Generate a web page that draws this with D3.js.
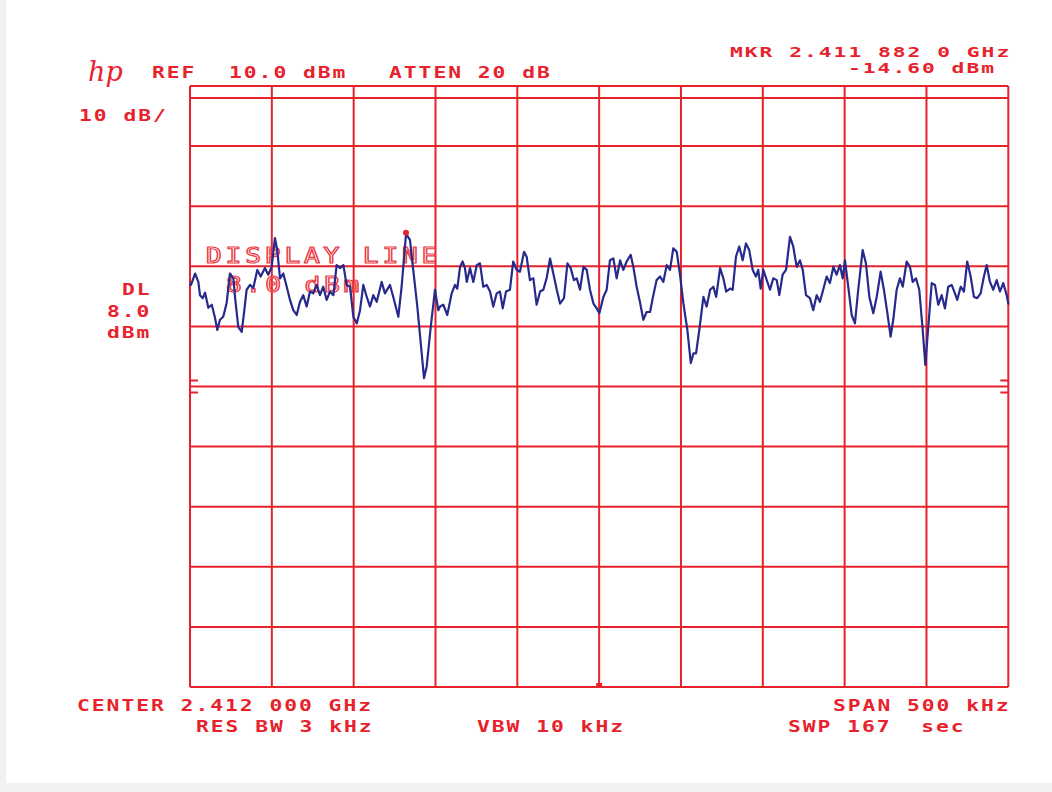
<!DOCTYPE html>
<html>
<head>
<meta charset="utf-8">
<script src="https://cdn.jsdelivr.net/npm/d3@7"></script>
<style>
  html, body { margin: 0; padding: 0; background: #ffffff; }
  svg { display: block; }
  svg text { white-space: pre; }
</style>
</head>
<body>
<svg id="chart" width="1052" height="792"></svg>
<script>
// Spectrum analyser plot: 2.412 GHz centre, 500 kHz span, 10 dB/div from +10 dBm reference.
const centerGHz = 2.412;
const spanKHz = 500;
const refDBm = 10;
const dbPerDiv = 10;
const displayLineDBm = 8.0;
const markerOffsetKHz = -118;      // 2.411 882 0 GHz
const markerLevelDBm = -14.60;

// Trace: frequency offset from centre (kHz) and level (dBm)
const freqOffsetKHz = [
  -250, -249.4, -246.9, -244.9, -243.9, -242.2, -240.8, -238.8, -236.7, -234.7,
  -233.3, -231.7, -229.7, -227.6, -225.6, -223.5, -222.5, -220.5, -218.4, -216.8,
  -215.4, -213.3, -211.3, -208.9, -206.8, -204.2, -202.2, -200.1, -198.1, -196.7,
  -195.0, -193.0, -190.9, -188.9, -186.9, -184.8, -182.8, -180.8, -178.7, -176.7,
  -174.7, -172.6, -170.6, -168.6, -166.5, -164.5, -162.4, -160.4, -158.3, -156.3,
  -154.3, -152.2, -150.2, -148.1, -146.1, -144.1, -142.0, -140.0, -138.0, -135.9,
  -132.9, -130.9, -127.8, -125.8, -122.7, -120.7, -118.0, -115.6, -113.6, -111.1,
  -109.0, -107.0, -105.4, -102.9, -100.3, -98.3,
  -97.2, -95.2, -92.8, -90.1, -88.1, -86.7, -85.0, -83.4, -82.0, -80.9,
  -78.9, -76.9, -74.8, -72.8, -70.8, -68.7, -66.7, -64.7, -62.6, -60.6,
  -58.9, -56.9, -54.5, -52.5, -50.4, -48.4, -45.9, -44.3, -42.3, -40.2,
  -38.2, -36.1, -34.1, -32.1, -30.0, -28.0, -25.9, -23.9, -21.5, -19.4,
  -17.4, -15.4, -13.7, -11.7, -9.6, -7.6, -5.6, -3.5, -1.5, 0.1,
  2.6, 4.6, 6.6, 8.7, 10.7, 12.8, 14.8, 16.8, 19.3, 20.9,
  22.9, 24.9, 27.0, 29.0, 31.1, 33.1, 35.1, 37.2, 39.2, 41.3,
  43.3, 45.3, 47.4, 49.4, 51.5, 53.9, 56.0, 57.6, 59.2, 61.2,
  63.7, 65.7, 67.8, 69.8, 71.5,
  73.9, 75.9, 77.6, 80.0, 81.6, 83.6, 85.6, 87.7, 89.7, 91.7,
  93.8, 95.8, 97.2, 98.7, 100.3, 102.4, 104.4, 106.4, 108.5, 110.1,
  112.1, 114.2, 116.6, 118.6, 120.7, 122.7, 124.4, 126.4, 128.8, 130.8,
  132.9, 134.9, 136.9, 139.0, 141.0, 143.1, 145.1, 147.1, 148.8, 150.2,
  152.2, 154.3, 156.3, 158.3, 161.0, 163.0, 165.1, 167.5, 169.6, 172.0,
  174.0, 176.1, 178.1, 179.7, 181.8, 183.8, 185.5, 187.9, 189.9, 191.6,
  193.6, 195.6, 197.7, 199.3, 201.1, 203.2, 205.2, 207.2, 209.3, 211.3,
  213.3, 215.4, 217.4, 218.8, 220.9, 222.9, 224.9, 227.0, 229.0, 231.0,
  233.1, 235.1, 236.8, 238.8, 240.8, 242.9, 244.9, 246.9, 249.0, 250
];
const levelDBm = [
  -23.0, -23.1, -21.2, -22.6, -24.8, -25.3, -24.4, -26.9, -26.4, -28.6,
  -30.6, -28.9, -28.4, -26.1, -21.2, -22.0, -25.1, -30.1, -30.9, -27.3,
  -23.9, -23.1, -23.6, -20.6, -21.7, -20.3, -21.4, -20.1, -15.3, -17.3,
  -22.0, -21.2, -23.4, -25.6, -27.3, -28.1, -25.9, -24.8, -26.7, -24.2,
  -24.5, -23.1, -24.8, -23.4, -25.6, -24.2, -24.8, -19.8, -20.3, -19.8,
  -23.1, -23.4, -28.4, -29.5, -27.3, -23.1, -25.1, -26.7, -24.8, -25.9,
  -22.6, -24.5, -23.1, -25.1, -28.4, -23.4, -14.6, -15.6, -20.6, -26.7,
  -32.8, -38.6, -36.7, -30.1, -23.9, -27.3,
  -26.7, -26.4, -28.1, -24.5, -23.1, -23.7, -20.1, -19.2, -20.3, -22.6,
  -20.3, -22.6, -19.8, -19.5, -23.4, -23.1, -24.2, -26.7, -24.5, -24.2,
  -27.0, -24.2, -23.9, -19.2, -20.6, -20.9, -17.6, -18.4, -22.3, -22.0,
  -26.4, -24.2, -23.9, -22.0, -18.7, -21.2, -23.9, -26.2, -25.3, -19.5,
  -20.3, -22.3, -22.0, -23.9, -20.1, -20.6, -23.9, -26.2, -27.0, -27.8,
  -25.1, -23.9, -19.0, -18.7, -22.0, -19.0, -20.6, -19.2, -18.1, -20.1,
  -23.4, -25.9, -28.9, -27.6, -27.6, -24.8, -22.3, -21.7, -22.6, -19.8,
  -20.6, -17.0, -17.6, -21.4, -26.2, -30.6, -36.1, -34.5, -34.5, -30.6,
  -25.1, -26.7, -23.9, -23.4, -25.1,
  -20.3, -22.0, -24.2, -23.7, -23.9, -18.4, -16.7, -19.0, -16.2, -17.3,
  -20.6, -21.7, -20.6, -23.7, -20.6, -22.3, -23.9, -22.0, -22.3, -24.8,
  -21.4, -20.6, -15.1, -16.7, -20.1, -19.0, -20.6, -24.8, -25.3, -27.3,
  -24.8, -25.9, -23.9, -21.7, -22.8, -20.1, -21.4, -19.8, -22.0, -19.0,
  -23.4, -28.1, -29.5, -23.9, -17.3, -19.5, -25.1, -27.8, -25.1, -20.9,
  -23.9, -27.8, -31.7, -28.9, -23.9, -22.0, -23.4, -19.2, -20.1, -22.6,
  -22.0, -23.9, -30.6, -36.4, -30.1, -22.8, -23.1, -26.4, -24.8, -27.0,
  -23.4, -23.1, -24.5, -25.6, -23.4, -24.2, -19.2, -21.7, -25.1, -25.3,
  -24.5, -21.7, -19.8, -22.6, -23.9, -22.3, -24.2, -22.8, -24.8, -26.2
];

// Graticule divisions
const xTickKHz = d3.range(-spanKHz / 2, spanKHz / 2 + 1, spanKHz / 10);
const yTickDBm = d3.range(refDBm - 10 * dbPerDiv, refDBm + 1, dbPerDiv);

// Header / footer annotations
const headerLeft = ["REF", "10.0 dBm", "ATTEN 20 dB"];
const scaleLabel = "10 dB/";
const markerFreqLabel = "MKR 2.411 882 0 GHz";
const footerTop = ["CENTER 2.412 000 GHz", "SPAN 500 kHz"];
const footerBottom = ["RES BW 3 kHz", "VBW 10 kHz", "SWP 167  sec"];
const dlLabel = ["DL", displayLineDBm.toFixed(1), "dBm"];
const dlBanner = ["DISPLAY LINE", displayLineDBm.toFixed(1) + " dBm"];

const RED = "#e8222c";
const NAVY = "#262a8c";

const svg = d3.select("#chart");

// faint scanner edges
svg.append("rect").attr("x", 0).attr("y", 0).attr("width", 6).attr("height", 792).attr("fill", "#f0f1f4");
svg.append("rect").attr("x", 0).attr("y", 783).attr("width", 1052).attr("height", 9).attr("fill", "#f2f2f2");

const x = d3.scaleLinear().domain([-spanKHz / 2, spanKHz / 2]).range([190, 1008.3]);
const y = d3.scaleLinear().domain([refDBm - 10 * dbPerDiv, refDBm]).range([687, 86]);

const grid = svg.append("g").attr("stroke", RED).attr("stroke-width", 2).attr("fill", "none");

// horizontal divisions
grid.selectAll("line.h").data(yTickDBm).join("line")
  .attr("class", "h")
  .attr("x1", x(-spanKHz / 2)).attr("x2", x(spanKHz / 2))
  .attr("y1", d => y(d)).attr("y2", d => y(d));

// vertical divisions
grid.selectAll("line.v").data(xTickKHz).join("line")
  .attr("class", "v")
  .attr("x1", d => x(d)).attr("x2", d => x(d))
  .attr("y1", y(refDBm)).attr("y2", y(refDBm - 10 * dbPerDiv));

// display line
grid.append("line")
  .attr("x1", x(-spanKHz / 2)).attr("x2", x(spanKHz / 2))
  .attr("y1", y(displayLineDBm)).attr("y2", y(displayLineDBm));

// threshold ticks at both edges around -40 dBm
[-39, -41].forEach(v => {
  grid.append("line").attr("x1", x(-250)).attr("x2", x(-250) + 8).attr("y1", y(v)).attr("y2", y(v));
  grid.append("line").attr("x1", x(250) - 8).attr("x2", x(250)).attr("y1", y(v)).attr("y2", y(v));
});

// centre-frequency mark on the bottom edge
svg.append("rect")
  .attr("x", x(0) - 3).attr("y", y(-90) - 4).attr("width", 6).attr("height", 4)
  .attr("fill", RED);

// Plotter-style monospaced text
function plot(str, x0, base, o = {}) {
  const pitch = o.pitch || 14.8, size = o.size || 15, sx = o.sx || 1.42;
  const t = svg.append("text")
    .attr("transform", `translate(${x0},${base}) scale(${sx},1)`)
    .attr("font-family", "DejaVu Sans Mono")
    .attr("font-weight", o.weight || "bold")
    .attr("font-size", size)
    .attr("x", Array.from(str, (_, i) => (i * pitch / sx).toFixed(2)).join(" "))
    .attr("y", 0)
    .text(str);
  if (o.hollow) {
    t.attr("fill", "none").attr("stroke", o.color || "#ea3a44").attr("stroke-width", 1.2);
  } else {
    t.attr("fill", o.color || RED);
  }
  return t;
}

// banner text behind the trace
plot(dlBanner[0], 206, 263, { pitch: 19.6, size: 21, sx: 1.25, weight: "normal", hollow: true });
plot(dlBanner[1], 226, 292, { pitch: 19.6, size: 21, sx: 1.25, weight: "normal", hollow: true });

// trace
const line = d3.line()
  .x((d, i) => x(freqOffsetKHz[i]))
  .y(d => y(d))
  .curve(d3.curveLinear);

svg.append("path")
  .datum(levelDBm)
  .attr("d", line)
  .attr("fill", "none")
  .attr("stroke", NAVY)
  .attr("stroke-width", 2.2)
  .attr("stroke-linejoin", "round")
  .attr("stroke-linecap", "round");

// marker
svg.append("circle")
  .attr("cx", x(markerOffsetKHz)).attr("cy", y(markerLevelDBm) - 1)
  .attr("r", 3).attr("fill", RED);

// hp logo
svg.append("text")
  .attr("x", 88).attr("y", 81)
  .attr("font-family", "DejaVu Serif").attr("font-style", "italic")
  .attr("font-size", 27).attr("fill", RED)
  .text("hp");

// header
plot(headerLeft[0], 152, 77.5);
plot(headerLeft[1], 229, 77.5);
plot(headerLeft[2], 389, 77.5);
plot(scaleLabel, 79, 121);
plot(markerFreqLabel, 730, 57, { size: 14, sx: 1.52 });
plot(markerLevelDBm.toFixed(2) + " dBm", 848, 73, { size: 14, sx: 1.52 });

// display-line readout on the left
plot(dlLabel[0], 122, 295);
plot(dlLabel[1], 107, 317);
plot(dlLabel[2], 107, 338);

// footer
plot(footerTop[0], 77, 711);
plot(footerTop[1], 833, 711);
plot(footerBottom[0], 196, 732);
plot(footerBottom[1], 477, 732);
plot(footerBottom[2], 788, 732);
</script>
</body>
</html>
